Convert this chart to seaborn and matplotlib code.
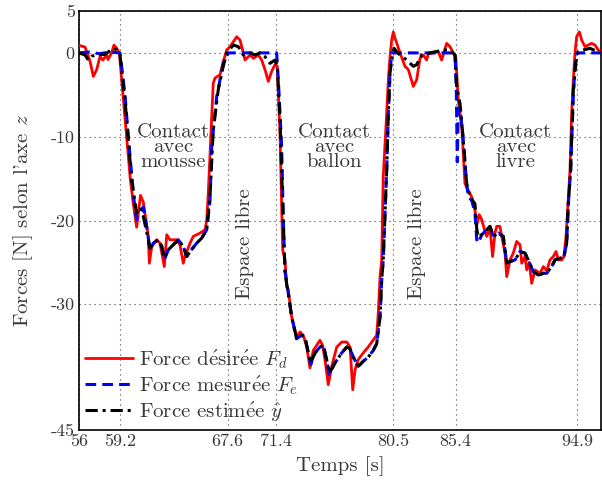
import numpy as np
import pandas as pd
import matplotlib
matplotlib.use("Agg")
import matplotlib.pyplot as plt
import seaborn as sns

# ---------------- data ----------------
t_d = [56.0, 56.47, 56.86, 57.12, 57.38, 57.64, 57.87, 58.16, 58.26, 58.55, 58.73, 58.94, 59.15,
       59.72, 60.0, 60.24, 60.50, 60.80, 61.02, 61.28, 61.41, 61.49, 61.68, 62.07, 62.32, 62.66, 62.85,
       63.10, 63.63, 63.88, 64.14, 64.27, 64.67, 64.92, 65.45, 65.84, 65.97, 66.09, 66.23,
       66.48, 66.62, 67.01, 67.26, 67.53, 67.79, 68.05, 68.31, 68.57, 68.83, 68.96, 69.35, 69.61,
       70.00, 70.26, 70.52, 70.78, 71.04, 71.30, 71.48, 71.69, 71.90,
       72.08, 72.21, 72.34, 72.60, 72.99, 73.25, 73.51, 73.78, 74.03, 74.29, 74.81, 75.02, 75.20,
       75.46, 75.73, 76.12, 76.51, 76.90, 77.16, 77.37, 77.55, 77.80, 78.19, 78.58, 78.85, 79.24,
       79.36, 79.50, 79.63,
       79.75, 80.02, 80.15, 80.28, 80.41, 80.54, 80.67, 80.80, 81.06, 81.45, 81.71, 82.10, 82.36,
       82.62, 82.88, 83.14, 83.27, 83.66, 84.05, 84.31, 84.70, 84.96, 85.22, 85.41,
       85.61, 85.88, 86.13, 86.39, 86.66, 86.91, 87.05, 87.25, 87.44, 87.69, 87.83, 88.08, 88.29,
       88.47, 88.61, 88.86, 89.00, 89.26, 89.39, 89.65, 89.90, 90.17, 90.43, 90.56, 90.82, 90.95,
       91.15, 91.34, 91.60, 91.99, 92.25, 92.51, 92.77, 93.03, 93.24, 93.42, 93.68, 93.86, 94.02,
       94.20, 94.33,
       94.46, 94.59, 94.72, 94.85, 95.06, 95.24, 95.50, 95.76, 96.02, 96.28, 96.54, 96.75]
f_d = [0.9, 0.7, -1.0, -2.8, -2.0, -0.45, -0.85, -0.25, -0.8, 0.0, 0.94, 0.55, 0.0,
       -10.0, -15.0, -18.0, -20.8, -17.0, -17.8, -20.5, -21.9, -25.1, -23.1, -22.3, -22.7, -25.5, -21.7,
       -22.3, -22.3, -22.9, -25.1, -24.3, -22.7, -21.9, -21.5, -21.1, -20.0, -16.8, -12.0,
       -3.6, -3.0, -2.6, -1.05, 0.35, 0.74, 1.34, 1.93, 1.54, 0.0, -0.85, -0.25, -0.65,
       -0.25, -0.85, -2.0, -3.4, -2.2, -1.4, -1.6, -9.6, -23.5,
       -24.7, -27.9, -28.3, -31.5, -33.9, -33.3, -33.7, -35.1, -37.6, -35.5, -34.3, -34.9, -36.6,
       -39.6, -37.4, -35.1, -34.5, -34.5, -35.1, -40.2, -37.8, -36.6, -35.8, -35.1, -34.5, -33.7,
       -31.1, -26.7, -24.7,
       -14.8, -7.2, -3.2, -0.45, 1.54, 2.5, 1.74, 1.2, 0.0, -1.6, -2.0, -4.0, -3.2,
       -0.65, -0.25, -0.85, -0.1, 0.0, 0.15, -0.85, 1.14, 0.74, 0.0, -0.45,
       -5.6, -8.8, -15.6, -16.4, -17.2, -18.7, -20.5, -19.3, -19.9, -21.3, -21.9, -20.9, -24.3,
       -21.5, -20.7, -20.7, -21.9, -23.9, -26.7, -24.7, -23.9, -22.5, -22.9, -25.1, -24.3, -25.9,
       -25.0, -27.5, -25.9, -26.3, -25.5, -26.0, -24.7, -24.3, -23.7, -24.7, -24.7, -24.3, -21.9,
       -17.2, -14.0,
       -7.2, -3.2, 0.0, 1.93, 2.5, 1.54, 0.74, 0.94, 1.14, 0.94, 0.35, 0.0]

t_e = [56.0, 56.8, 57.6, 58.4, 59.2, 59.59, 59.85, 60.11, 60.37, 60.50, 60.76, 61.02, 61.28, 61.54,
       61.80, 62.19, 62.46, 62.66, 62.97, 63.36, 63.75, 64.14, 64.41, 64.67, 65.19, 65.58, 65.97,
       66.23, 66.36, 66.75, 67.01, 67.26, 67.65, 71.43, 71.56, 71.82, 71.95, 72.08, 72.34, 72.60,
       72.99, 73.38, 73.64, 73.90, 74.09, 74.42, 74.81, 75.07, 75.33, 75.54, 75.98, 76.51, 76.90,
       77.16, 77.41, 77.80, 78.19, 78.58, 78.97, 79.24, 79.50, 79.63, 79.75, 80.02, 80.15, 80.28,
       80.41, 85.35, 85.45, 85.53, 85.60, 85.74, 86.00, 86.26, 86.39, 86.66, 86.91, 87.05, 87.17,
       87.44, 87.83, 88.08, 88.34, 88.73, 89.12, 89.39, 89.65, 90.04, 90.43, 90.82, 91.07, 91.46,
       91.86, 92.25, 92.51, 92.90, 93.16, 93.55, 93.86, 94.07, 94.20, 94.38, 94.59, 94.72, 94.85,
       96.75]
f_e = [0.0, 0.1, -0.1, 0.1, 0.0, -5.0, -10.0, -14.5, -18.7, -19.9, -19.1, -18.4, -20.7, -23.5,
       -22.7, -22.3, -23.1, -24.7, -23.5, -22.9, -22.3, -23.1, -24.3, -23.7, -22.7, -22.1, -21.1,
       -17.6, -11.2, -5.2, -3.2, -1.25, 0.0, 0.0, -3.2, -11.2, -20.0, -26.0, -28.7, -31.5,
       -34.1, -33.7, -33.9, -35.8, -37.2, -35.8, -35.1, -34.9, -36.6, -38.4, -37.0, -35.8, -35.1,
       -35.3, -36.3, -37.4, -36.8, -36.3, -35.5, -34.7, -31.5, -27.1, -24.7, -14.0, -7.2, -2.4,
       0.0, 0.0, -4.0, -13.0, -7.5, -6.5, -10.4, -15.6, -17.2, -17.6, -19.1, -22.3, -22.7,
       -21.7, -21.1, -20.7, -21.9, -21.5, -21.9, -25.1, -24.9, -24.7, -23.7, -23.9, -24.7, -26.1,
       -26.5, -26.3, -26.3, -25.5, -24.7, -24.5, -24.3, -22.7, -18.0, -14.0, -5.2, -1.6, 0.0,
       0.0]

t_y = [56.0, 56.47, 56.73, 56.99, 57.4, 58.0, 58.68, 58.94, 59.2, 59.59, 59.85, 60.11, 60.50,
       60.76, 61.02, 61.41, 61.54, 61.80, 62.19, 62.46, 62.66, 62.97, 63.36, 63.75, 64.14, 64.41,
       64.67, 65.19, 65.58, 65.97, 66.23, 66.48, 66.87, 67.26, 67.53, 68.05, 68.44, 68.83, 69.35,
       69.74, 70.13, 70.52, 70.91, 71.30, 71.48, 71.69, 71.95, 72.08, 72.34, 72.60, 72.99, 73.38,
       73.64, 73.90, 74.09, 74.42, 74.81, 75.07, 75.33, 75.54, 75.98, 76.51, 76.90, 77.16, 77.41,
       77.80, 78.19, 78.58, 78.97, 79.24, 79.50, 79.63, 79.75, 80.02, 80.15, 80.28, 80.41, 80.59,
       80.80, 81.06, 81.58, 82.10, 82.36, 82.75, 83.40, 84.44, 84.96, 85.35, 85.48, 85.74, 86.00,
       86.26, 86.52, 86.91, 87.05, 87.17, 87.44, 87.83, 88.08, 88.34, 88.73, 89.12, 89.39, 89.65,
       90.04, 90.43, 90.82, 91.07, 91.46, 91.86, 92.25, 92.51, 92.90, 93.16, 93.55, 93.86, 94.07,
       94.20, 94.38, 94.59, 94.80, 94.98, 95.37, 95.89, 96.41, 96.75]
f_y = [0.0, -0.25, -0.85, -0.4, -0.2, -0.2, 0.55, 0.35, -0.25, -5.6, -10.4, -15.2, -19.1,
       -18.4, -19.5, -22.3, -23.3, -22.7, -22.3, -23.1, -24.5, -23.5, -22.9, -22.3, -23.1, -24.3,
       -23.7, -22.7, -22.1, -21.1, -17.0, -9.2, -4.4, -1.6, 0.0, 0.94, 0.74, -0.25, 0.0,
       -0.25, 0.0, -0.45, -1.25, -0.85, -1.6, -8.0, -20.0, -26.3, -28.7, -31.5, -34.1, -33.7,
       -33.9, -35.8, -37.0, -35.8, -35.1, -34.9, -36.6, -38.2, -37.0, -35.8, -35.1, -35.3, -36.3,
       -37.4, -36.8, -36.3, -35.5, -34.7, -31.5, -27.1, -24.7, -14.0, -7.2, -2.4, -0.85, 0.55,
       0.15, -0.25, -0.85, -1.6, -1.4, -0.25, 0.0, 0.35, 0.35, -0.25, -4.0, -6.0, -10.4,
       -15.6, -17.2, -18.0, -21.0, -22.0, -21.7, -21.1, -20.7, -21.9, -21.5, -21.9, -25.1, -24.9,
       -24.7, -23.7, -23.9, -24.7, -26.1, -26.5, -26.3, -26.3, -25.5, -24.7, -24.5, -24.3, -22.7,
       -18.0, -14.0, -4.4, -1.0, 0.15, 0.35, 0.55, 0.2, 0.0]

x_ticks = [56, 59.2, 67.6, 71.4, 80.5, 85.4, 94.9]
x_ticklabels = ["56", "59.2", "67.6", "71.4", "80.5", "85.4", "94.9"]
y_ticks = [5, 0, -10, -20, -30, -45]
y_ticklabels = ["5", "0", "-10", "-20", "-30", "-45"]

# é rendered through mathtext accent (the Computer Modern text font lacks it)
E_ACC = r"$\acute{\mathrm{e}}$"
labels = ["Force d" + E_ACC + "sir" + E_ACC + "e $F_d$",
          "Force mesur" + E_ACC + "e $F_e$",
          "Force estim" + E_ACC + r"e $\hat{y}$"]
contact_texts = ["Contact\navec\nmousse", "Contact\navec\nballon", "Contact\navec\nlivre"]
contact_t = [63.34, 75.9, 90.1]
free_t = [68.96, 82.42]

# ---------------- style ----------------
sns.set_theme(style="white")
plt.rcParams["font.family"] = ["cmr10", "DejaVu Serif"]
plt.rcParams["mathtext.fontset"] = "cm"
plt.rcParams["axes.unicode_minus"] = False
plt.rcParams["axes.formatter.use_mathtext"] = True

txt_col = "#3a3a3a"

fig = plt.figure(figsize=(6.02, 4.84), dpi=100)
ax = fig.add_axes([79 / 602, 1 - 430 / 484, 522 / 602, 419 / 484])

df_d = pd.DataFrame({"t": t_d, "F": f_d})
df_e = pd.DataFrame({"t": t_e, "F": f_e})
df_y = pd.DataFrame({"t": t_y, "F": f_y})

sns.lineplot(data=df_d, x="t", y="F", ax=ax, sort=False, estimator=None,
             color="#ff0000", lw=2.0, label=labels[0], zorder=3)
sns.lineplot(data=df_e, x="t", y="F", ax=ax, sort=False, estimator=None,
             color="#0000ff", lw=2.2, label=labels[1], zorder=4)
sns.lineplot(data=df_y, x="t", y="F", ax=ax, sort=False, estimator=None,
             color="black", lw=2.2, label=labels[2], zorder=5)
lines = ax.get_lines()
lines[1].set_linestyle((0, (3.5, 2.0)))
lines[2].set_linestyle((0, (4.0, 1.6, 1.0, 1.6)))

ax.set_xlim(56, 96.75)
ax.set_ylim(-45, 5)
ax.set_xticks(x_ticks)
ax.set_xticklabels(x_ticklabels)
ax.set_yticks(y_ticks)
ax.set_yticklabels(y_ticklabels)
ax.tick_params(direction="in", length=3, width=0.6, colors="black",
               labelcolor=txt_col, labelsize=13, pad=3)
ax.grid(True, linestyle=(0, (1, 3.5)), color="#444444", lw=0.8)
for s in ["left", "bottom", "top", "right"]:
    ax.spines[s].set_color("black")
    ax.spines[s].set_linewidth(1.2)

ax.set_xlabel("Temps [s]", fontsize=15, color=txt_col, labelpad=5)
ax.set_ylabel("Forces [N] selon l'axe $z$", fontsize=15, color=txt_col, labelpad=11)

for tx, lab in zip(contact_t, contact_texts):
    ax.text(tx, -11.2, lab, ha="center", va="center", fontsize=15,
            color=txt_col, linespacing=0.78)
for tx in free_t:
    ax.text(tx, -22.8, "Espace libre", ha="center", va="center", rotation=90,
            fontsize=15, color=txt_col)

leg = ax.legend(loc="lower left", bbox_to_anchor=(0.0, 0.0), frameon=False,
                fontsize=15, handlelength=2.3, handletextpad=0.3,
                labelspacing=0.15, borderaxespad=0.1, borderpad=0.2)
for t in leg.get_texts():
    t.set_color(txt_col)

fig.savefig("out.png", dpi=100)
